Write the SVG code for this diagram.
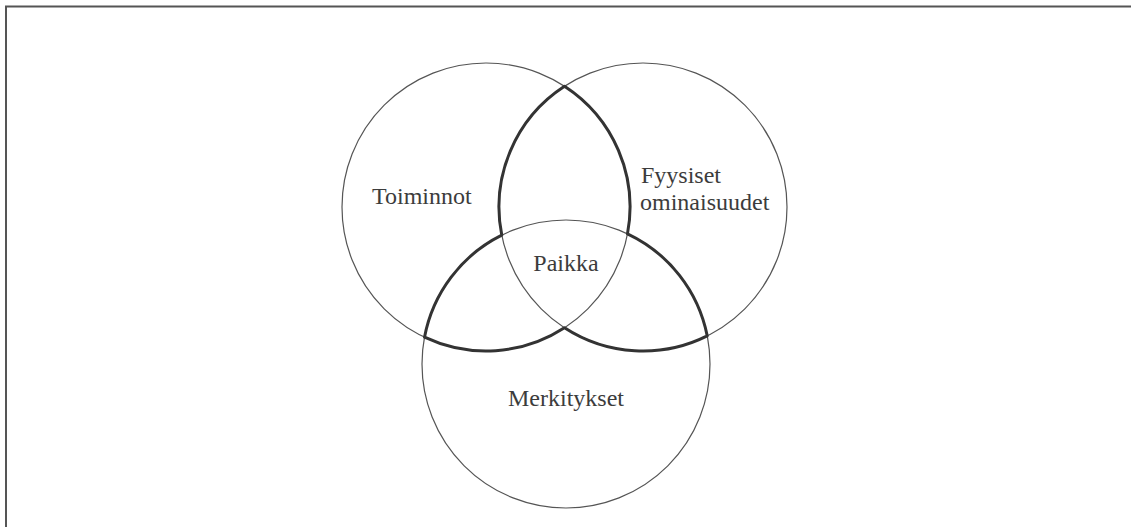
<svg xmlns="http://www.w3.org/2000/svg" width="1131" height="527" viewBox="0 0 1131 527">
<style>
.c{fill:none;stroke:#555;stroke-width:1.2}
.t{font-family:"Liberation Serif",serif;font-size:24px;fill:#3c3c3c}
</style>
<rect width="1131" height="527" fill="#fff"/>
<path d="M6,527 V6.5 H1131" fill="none" stroke="#555" stroke-width="2"/>
<g id="toiminnot">
<circle class="c" cx="486" cy="207" r="144"/>
<text class="t" x="372" y="204">Toiminnot</text>
</g>
<g id="fyysiset">
<circle class="c" cx="643" cy="207" r="144"/>
<text class="t" x="641" y="183">Fyysiset</text>
<text class="t" x="640" y="210">ominaisuudet</text>
</g>
<g id="merkitykset">
<circle class="c" cx="566" cy="364" r="144"/>
<text class="t" x="566" y="406" text-anchor="middle">Merkitykset</text>
</g>
<g id="connectors">
<path d="M564.5,86.28 A144,144 0 0 0 501.77,235.12 A144,144 0 0 0 424.51,337.21 A144,144 0 0 0 564.5,327.72 A144,144 0 0 0 707.23,335.88 A144,144 0 0 0 627.49,233.79 A144,144 0 0 0 564.5,86.28 Z" fill="none" stroke="#333" stroke-width="3" stroke-linejoin="round"/>
</g>
<g id="paikka">
<text class="t" x="566" y="271" text-anchor="middle">Paikka</text>
</g>
</svg>
